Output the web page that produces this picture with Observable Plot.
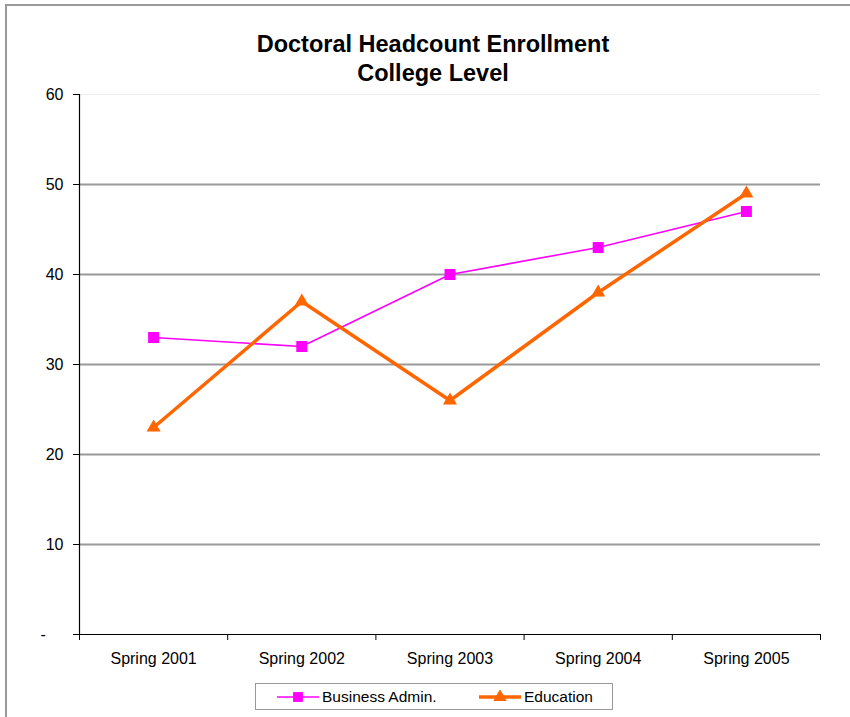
<!DOCTYPE html>
<html>
<head>
<meta charset="utf-8">
<script src="https://cdn.jsdelivr.net/npm/d3@7"></script>
<script src="https://cdn.jsdelivr.net/npm/@observablehq/plot@0.6"></script>
<style>
  html, body { margin: 0; padding: 0; background: #fff; }
  #wrap { position: relative; width: 850px; height: 717px; overflow: hidden; font-family: "Liberation Sans", Arial, sans-serif; }
  #frame { position: absolute; left: 5px; top: 4px; width: 900px; height: 800px; border-top: 2px solid #999; border-left: 2px solid #999; box-sizing: border-box; }
  #title { position: absolute; left: 0; width: 866px; top: 30px; text-align: center; font-weight: bold; font-size: 23.5px; line-height: 29px; color: #000; }
  #chart { position: absolute; left: 0; top: 0; }
  #legend { position: absolute; left: 255px; top: 683px; width: 358px; height: 27px; border: 1px solid #999; box-sizing: border-box; background: #fff; font-size: 15.5px; }
  .item { position: absolute; top: 0; height: 25px; display: flex; align-items: center; }
  .item svg { margin-right: 3px; }
</style>
</head>
<body>
<div id="wrap">
  <div id="frame"></div>
  <div id="chart"></div>
  <div id="title">Doctoral Headcount Enrollment<br>College Level</div>
  <div id="legend"></div>
</div>
<script>
const categories = ["Spring 2001", "Spring 2002", "Spring 2003", "Spring 2004", "Spring 2005"];
const businessAdmin = [33, 32, 40, 43, 47];
const education = [23, 37, 26, 38, 49];
const yTicks = [0, 10, 20, 30, 40, 50, 60];
const gridValues = [10, 20, 30, 40, 50];

const seriesNames = ["Business Admin.", "Education"];
const colors = {"Business Admin.": "#FF00FF", "Education": "#FF6600"};

const rows = [];
categories.forEach((c, i) => {
  rows.push({series: "Business Admin.", idx: i + 0.5, cat: c, value: businessAdmin[i]});
  rows.push({series: "Education", idx: i + 0.5, cat: c, value: education[i]});
});
const bRows = rows.filter(d => d.series === "Business Admin.");
const eRows = rows.filter(d => d.series === "Education");

const boundaryTicks = d3.range(0, categories.length + 1);
const centerTicks = categories.map((c, i) => i + 0.5);

const chart = Plot.plot({
  width: 850,
  height: 717,
  marginLeft: 79,
  marginRight: 30,
  marginTop: 94,
  marginBottom: 83,
  style: {fontFamily: "Liberation Sans, Arial, sans-serif", fontSize: "16px", color: "#000", background: "transparent"},
  x: {type: "linear", domain: [0, categories.length]},
  y: {domain: [0, 60]},
  marks: [
    Plot.ruleY([60], {stroke: "#eeeeee", strokeWidth: 1}),
    Plot.ruleY(gridValues, {stroke: "#999999", strokeWidth: 2}),
    Plot.axisY({ticks: yTicks, tickFormat: d => d === 0 ? "-\u00a0\u00a0\u00a0\u00a0" : String(d), tickSize: 6, tickPadding: 10, label: null, stroke: "#000", fontSize: 16}),
    Plot.axisX({ticks: boundaryTicks, tickFormat: () => "", tickSize: 6, label: null, stroke: "#000"}),
    Plot.axisX({ticks: centerTicks, tickFormat: d => categories[Math.round(d - 0.5)], tickSize: 0, tickPadding: 18, label: null, fontSize: 16}),
    Plot.ruleX([0], {y1: 0, y2: 60, stroke: "#000", strokeWidth: 1.2}),
    Plot.ruleY([0], {stroke: "#000", strokeWidth: 1.2}),
    Plot.line(bRows, {x: "idx", y: "value", stroke: colors["Business Admin."], strokeWidth: 1.6}),
    Plot.line(eRows, {x: "idx", y: "value", stroke: colors["Education"], strokeWidth: 3.5}),
    Plot.dot(bRows, {x: "idx", y: "value", symbol: "square", r: 6.2, fill: colors["Business Admin."], stroke: "none"}),
    Plot.dot(eRows, {x: "idx", y: "value", symbol: "triangle", r: 5.2, fill: colors["Education"], stroke: "none"})
  ]
});
document.getElementById("chart").appendChild(chart);

// Legend
const legend = d3.select("#legend");
const legendPos = {"Business Admin.": 21, "Education": 223};
seriesNames.forEach(name => {
  const item = legend.append("div").attr("class", "item").style("left", legendPos[name] + "px");
  const s = item.append("svg").attr("width", 42).attr("height", 14);
  s.append("line").attr("x1", 0).attr("x2", 42).attr("y1", 7).attr("y2", 7)
    .attr("stroke", colors[name]).attr("stroke-width", name === "Education" ? 3.5 : 1.6);
  if (name === "Education") {
    s.append("path").attr("d", d3.symbol(d3.symbolTriangle, Math.PI * 25)()).attr("transform", "translate(21,7)").attr("fill", colors[name]);
  } else {
    s.append("path").attr("d", d3.symbol(d3.symbolSquare, Math.PI * 6.2 * 6.2 * 0.8)()).attr("transform", "translate(21,7)").attr("fill", colors[name]);
  }
  item.append("span").text(name);
});
</script>
</body>
</html>
